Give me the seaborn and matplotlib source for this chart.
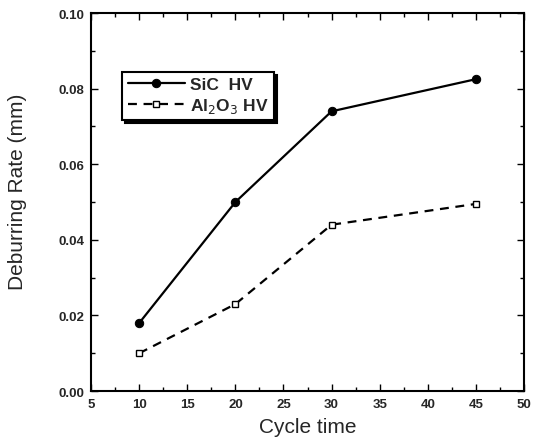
import matplotlib
matplotlib.use("Agg")
import matplotlib.pyplot as plt
import seaborn as sns
import pandas as pd
from matplotlib.ticker import MultipleLocator

sns.set_theme(style="ticks")
plt.rcParams['font.family'] = ['Liberation Sans', 'DejaVu Sans']

cycle_time = [10, 20, 30, 45]
sic_hv = [0.018, 0.050, 0.074, 0.0825]
al2o3_hv = [0.010, 0.023, 0.044, 0.0495]

fig = plt.figure(figsize=(5.33, 4.39), dpi=100)
ax = fig.add_axes([0.171, 0.107, 0.812, 0.861])

df1 = pd.DataFrame({"x": cycle_time, "y": sic_hv})
df2 = pd.DataFrame({"x": cycle_time, "y": al2o3_hv})

sns.lineplot(data=df1, x="x", y="y", ax=ax, color="black", lw=1.6,
             marker="o", markersize=6, markeredgecolor="black",
             label="SiC  HV")
sns.lineplot(data=df2, x="x", y="y", ax=ax, color="black", lw=1.6,
             linestyle=(0, (4, 3)), marker="s", markersize=5,
             markerfacecolor="white", markeredgecolor="black",
             markeredgewidth=1.0, label="Al$_2$O$_3$ HV")

ax.set_xlim(5, 50)
ax.set_ylim(0, 0.10)
ax.xaxis.set_major_locator(MultipleLocator(5))
ax.xaxis.set_minor_locator(MultipleLocator(2.5))
ax.yaxis.set_major_locator(MultipleLocator(0.02))
ax.yaxis.set_minor_locator(MultipleLocator(0.01))
ax.set_yticklabels([f"{v:.2f}" for v in ax.get_yticks()])

ax.tick_params(which="both", direction="in", top=True, right=True,
               labelsize=9.5, width=1.0, color="black", pad=5)
ax.tick_params(which="major", length=5)
ax.tick_params(which="minor", length=3)
for lab in ax.get_xticklabels() + ax.get_yticklabels():
    lab.set_fontweight("bold")
for s in ax.spines.values():
    s.set_linewidth(1.5)
    s.set_color("black")

ax.set_xlabel("Cycle time", fontsize=15, labelpad=5)
ax.set_ylabel("Deburring Rate (mm)", fontsize=15)
ax.yaxis.set_label_coords(-0.148, 0.53)

leg = ax.legend(loc="upper left", bbox_to_anchor=(0.072, 0.844), borderaxespad=0,
                frameon=True, fancybox=False,
                shadow={"facecolor": "black", "edgecolor": "black", "alpha": 1},
                fontsize=12.5, handlelength=3.3,
                borderpad=0.3, labelspacing=0.2, handletextpad=0.3,
                edgecolor="black", framealpha=1)
leg.get_frame().set_linewidth(1.5)
for t in leg.get_texts():
    t.set_fontweight("bold")

fig.savefig("out.png", dpi=100, facecolor="white")
